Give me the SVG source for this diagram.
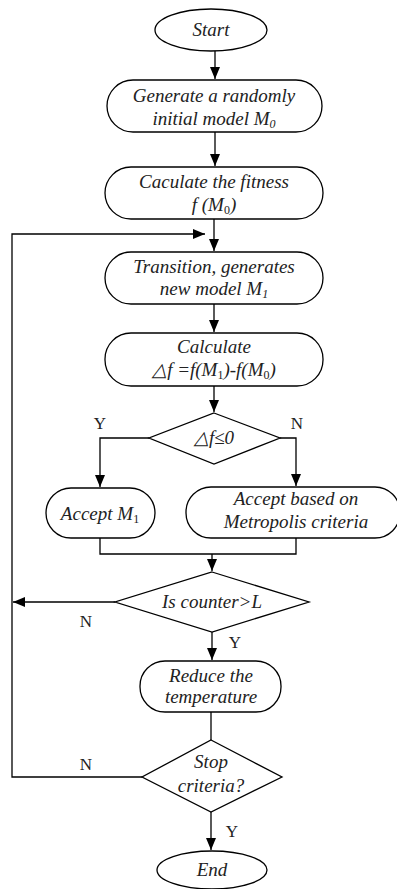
<svg xmlns="http://www.w3.org/2000/svg" width="397" height="889" viewBox="0 0 397 889">
<style>
.s{fill:#fff;stroke:#000;stroke-width:1.3}
.c{fill:none;stroke:#000;stroke-width:1.3}
.t{font-family:"Liberation Serif","Times New Roman",serif;font-style:italic;font-size:19px;fill:#222;text-anchor:middle}
.l{font-family:"Liberation Serif","Times New Roman",serif;font-size:17px;fill:#222;text-anchor:middle}
.sub{font-size:12px}
</style>
<defs>
<marker id="ah" markerUnits="userSpaceOnUse" markerWidth="12" markerHeight="10" refX="12" refY="5" orient="auto">
<path d="M0,0 L12,5 L0,10 Z" fill="#000"/>
</marker>
</defs>
<rect width="397" height="889" fill="#fff"/>
<g id="connectors">
<path class="c" d="M215,51 V79" marker-end="url(#ah)"/>
<path class="c" d="M215,132 V166" marker-end="url(#ah)"/>
<path class="c" d="M214,219 V251" marker-end="url(#ah)"/>
<path class="c" d="M142,777 H12 V234 H205" marker-end="url(#ah)"/>
<path class="c" d="M214,304 V332" marker-end="url(#ah)"/>
<path class="c" d="M214,386 V412" marker-end="url(#ah)"/>
<path class="c" d="M149,438 H100 V487" marker-end="url(#ah)"/>
<path class="c" d="M280,438 H296 V486" marker-end="url(#ah)"/>
<path class="c" d="M100,538 V554 H296 V537"/>
<path class="c" d="M212,554 V571" marker-end="url(#ah)"/>
<path class="c" d="M115,602 H13" marker-end="url(#ah)"/>
<path class="c" d="M212,632 V660" marker-end="url(#ah)"/>
<path class="c" d="M211,712 V740"/>
<path class="c" d="M211,812 V850" marker-end="url(#ah)"/>
<text class="l" x="100" y="429">Y</text>
<text class="l" x="297" y="429">N</text>
<text class="l" x="86" y="627">N</text>
<text class="l" x="235" y="648">Y</text>
<text class="l" x="86" y="770">N</text>
<text class="l" x="232" y="837">Y</text>
</g>
<g id="start">
<ellipse class="s" cx="211" cy="30" rx="56" ry="21"/>
<text class="t" x="211" y="36">Start</text>
</g>
<g id="generate">
<rect class="s" x="107" y="80" width="215" height="52" rx="26"/>
<text class="t" x="214" y="102">Generate a randomly</text>
<text class="t" x="214" y="125">initial model  M<tspan class="sub" dy="3">0</tspan></text>
</g>
<g id="fitness">
<rect class="s" x="105" y="167" width="218" height="52" rx="26"/>
<text class="t" x="214" y="188">Caculate the fitness</text>
<text class="t" x="214" y="211">f (M<tspan class="sub" dy="3" font-style="normal">0</tspan><tspan dy="-3">)</tspan></text>
</g>
<g id="transition">
<rect class="s" x="105" y="252" width="218" height="52" rx="26"/>
<text class="t" x="214" y="273">Transition, generates</text>
<text class="t" x="214" y="295">new model M<tspan class="sub" dy="3">1</tspan></text>
</g>
<g id="calculate">
<rect class="s" x="105" y="333" width="218" height="53" rx="26"/>
<text class="t" x="214" y="353">Calculate</text>
<text class="t" x="214" y="376">△f =f(M<tspan class="sub" dy="3" font-style="normal">1</tspan><tspan dy="-3">)-f(M</tspan><tspan class="sub" dy="3" font-style="normal">0</tspan><tspan dy="-3">)</tspan></text>
</g>
<g id="decision1">
<polygon class="s" points="214,413 280,438 214,464 149,438"/>
<text class="t" x="214" y="444">△f≤0</text>
</g>
<g id="accept1">
<rect class="s" x="46" y="488" width="109" height="50" rx="25"/>
<text class="t" x="100" y="520">Accept M<tspan class="sub" dy="3" font-style="normal">1</tspan></text>
</g>
<g id="accept2">
<rect class="s" x="186" y="487" width="214" height="51" rx="25"/>
<text class="t" x="296" y="505">Accept based on</text>
<text class="t" x="296" y="528">Metropolis criteria</text>
</g>
<g id="decision2">
<polygon class="s" points="212,572 309,602 212,632 115,602"/>
<text class="t" x="212" y="608">Is counter&gt;L</text>
</g>
<g id="reduce">
<rect class="s" x="140" y="661" width="141" height="51" rx="25"/>
<text class="t" x="211" y="682">Reduce the</text>
<text class="t" x="211" y="703">temperature</text>
</g>
<g id="decision3">
<polygon class="s" points="211,740 282,777 211,812 142,777"/>
<text class="t" x="211" y="768">Stop</text>
<text class="t" x="211" y="792">criteria?</text>
</g>
<g id="end">
<ellipse class="s" cx="212" cy="870" rx="55" ry="19"/>
<text class="t" x="212" y="876">End</text>
</g>
</svg>
